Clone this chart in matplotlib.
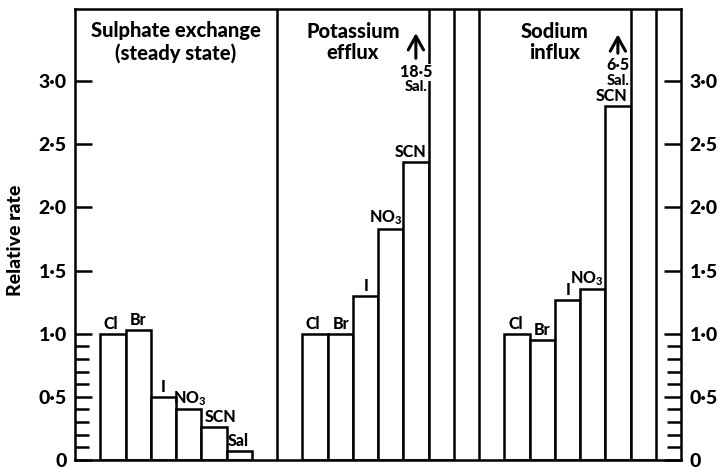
import numpy as np
import matplotlib.pyplot as plt

plt.rcParams['font.family'] = ['Lato', 'DejaVu Sans']
plt.rcParams['font.weight'] = 'black'
plt.rcParams['mathtext.fontset'] = 'custom'
plt.rcParams['mathtext.rm'] = 'Lato:black'
plt.rcParams['mathtext.bf'] = 'Lato:black'
plt.rcParams['mathtext.default'] = 'bf'

anions = ['Cl', 'Br', 'I', 'NO$_3$', 'SCN', 'Sal']
sulphate = [1.0, 1.03, 0.5, 0.4, 0.26, 0.07]
potassium = [1.0, 1.0, 1.3, 1.83, 2.36, 18.5]
sodium = [1.0, 0.95, 1.27, 1.35, 2.8, 6.5]
titles = ['Sulphate exchange\n(steady state)', 'Potassium\nefflux', 'Sodium\ninflux']

LW = 1.8
YMAX = 3.57

fig = plt.figure(figsize=(7.18, 4.69), dpi=100)
ax = fig.add_axes([75 / 718, 9 / 469, 606 / 718, 451 / 469])

slot = np.arange(1, 7)
panels = [sulphate, potassium, sodium]
for p, vals in enumerate(panels):
    x0 = p * 8
    ax.bar(x0 + slot, vals, width=1, align='edge', facecolor='white',
           edgecolor='black', linewidth=LW, zorder=2)

for xd in (8, 16):
    ax.axvline(xd, color='black', linewidth=LW, zorder=3)

# anion labels above each bar
lab_dx = {
    0: [-0.1, 0, 0, 0.05, 0.25, -0.05],
    1: [-0.1, 0.05, 0.05, -0.2, -0.2, 0],
    2: [-0.05, 0, 0.05, -0.25, -0.25, 0],
}
for p, vals in enumerate(panels):
    for i in range(5 if p else 6):
        ax.text(p * 8 + slot[i] + 0.5 + lab_dx[p][i], vals[i] + 0.015, anions[i],
                ha='center', va='bottom', fontsize=11.5, zorder=4)

# off-scale salicylate bars
for xc, val, ya, yt, ys in [(13.5, potassium[5], (3.18, 3.38), 3.07, 2.95),
                            (21.5, sodium[5], (3.22, 3.37), 3.125, 3.0)]:
    ax.annotate('', xy=(xc, ya[1]), xytext=(xc, ya[0]),
                arrowprops=dict(arrowstyle='->,head_length=0.45,head_width=0.25',
                                lw=2.2, color='black', mutation_scale=22,
                                shrinkA=0, shrinkB=0), zorder=5)
    ax.text(xc, yt, '{:g}'.format(val).replace('.', '·'), ha='center', va='center',
            fontsize=11.5, zorder=5,
            bbox=dict(facecolor='white', edgecolor='none', pad=0.3))
    ax.text(xc, ys, 'Sal.', ha='center', va='center', fontsize=10.5, zorder=5)

for xc, t in zip([4, 11, 19], titles):
    ax.text(xc, 3.31, t, ha='center', va='center', fontsize=14.5,
            linespacing=1.15, zorder=4)

ax.set_xlim(0, 24)
ax.set_ylim(0, YMAX)
ax.set_xticks([])
major = np.arange(0, 3.01, 0.5)
ax.set_yticks(major)
ax.set_yticklabels(['0'] + ['{:.1f}'.format(v).replace('.', '·') for v in major[1:]])
ax.set_yticks(np.arange(0.1, 1.0, 0.1), minor=True)
ax.tick_params(axis='y', which='major', direction='in', length=12, width=LW,
               left=True, right=True, labelleft=True, labelright=True,
               labelsize=14, pad=6)
ax.tick_params(axis='y', which='minor', direction='in', length=10, width=LW,
               left=True, right=True)
for s in ax.spines.values():
    s.set_linewidth(LW)

fig.text(16 / 718, 1 - 240 / 469, 'Relative rate', rotation=90, ha='center',
         va='center', fontsize=14)

fig.savefig('out.png', dpi=100)
